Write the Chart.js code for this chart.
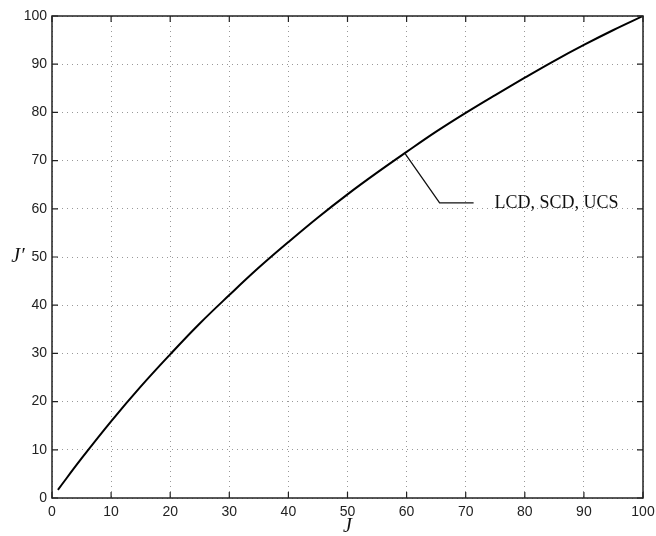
<!DOCTYPE html>
<html>
<head>
<meta charset="utf-8">
<script src="https://cdn.jsdelivr.net/npm/chart.js@4/dist/chart.umd.min.js"></script>
<style>
  html, body { margin: 0; padding: 0; background: #fff; }
  #wrap { width: 656px; height: 536px; }
</style>
</head>
<body>
<div id="wrap"><canvas id="lineChart" width="656" height="536"></canvas></div>
<script>
// values
const jValues = [1, 5, 10, 15, 20, 25, 30, 35, 40, 45, 50, 55, 60, 65, 70, 75, 80, 85, 90, 95, 100];
const jPrimeValues = [1.7, 8.2, 15.9, 23.1, 29.8, 36.2, 42.1, 47.8, 53.1, 58.2, 63.0, 67.5, 71.8, 76.0, 79.9, 83.6, 87.2, 90.7, 94.0, 97.1, 100];
const tickValues = [0, 10, 20, 30, 40, 50, 60, 70, 80, 90, 100];
const seriesLabel = 'LCD, SCD, UCS';

const points = jValues.map((j, i) => ({ x: j, y: jPrimeValues[i] }));

// box, inward ticks, axis titles and the callout
const framePlugin = {
    id: 'frame',
    afterDraw(chart) {
        const { ctx, chartArea: a, scales } = chart;
        const xs = scales.x, ys = scales.y;
        ctx.save();
        ctx.strokeStyle = '#222';
        ctx.lineWidth = 1.5;
        ctx.strokeRect(a.left, a.top, a.right - a.left, a.bottom - a.top);
        ctx.lineWidth = 1.2;
        ctx.beginPath();
        tickValues.forEach(v => {
            const px = xs.getPixelForValue(v);
            ctx.moveTo(px, a.bottom); ctx.lineTo(px, a.bottom - 6);
            ctx.moveTo(px, a.top); ctx.lineTo(px, a.top + 6);
            const py = ys.getPixelForValue(v);
            ctx.moveTo(a.left, py); ctx.lineTo(a.left + 6, py);
            ctx.moveTo(a.right, py); ctx.lineTo(a.right - 6, py);
        });
        ctx.stroke();

        // axis titles
        ctx.fillStyle = '#111';
        ctx.font = 'italic 20px "Liberation Serif", serif';
        ctx.textAlign = 'center';
        ctx.textBaseline = 'middle';
        ctx.fillText('J', (a.left + a.right) / 2, 527);
        ctx.fillText('J\u2032', 18, (a.top + a.bottom) / 2);

        // callout
        const i = jValues.indexOf(60);
        const ax = xs.getPixelForValue(jValues[i]) - 2;
        const ay = ys.getPixelForValue(jPrimeValues[i]) + 1;
        ctx.strokeStyle = '#111';
        ctx.lineWidth = 1.3;
        ctx.beginPath();
        ctx.moveTo(ax, ay);
        ctx.lineTo(ax + 35, ay + 50);
        ctx.lineTo(ax + 69, ay + 50);
        ctx.stroke();
        ctx.font = '18px "Liberation Serif", serif';
        ctx.textAlign = 'left';
        ctx.fillText(seriesLabel, ax + 90, ay + 50);
        ctx.restore();
    }
};

const tickFont = { family: '"Liberation Sans", Arial, sans-serif', size: 14 };

new Chart(document.getElementById('lineChart'), {
    type: 'scatter',
    data: {
        datasets: [{
            label: seriesLabel,
            data: points,
            showLine: true,
            borderColor: '#000',
            borderWidth: 2,
            pointRadius: 0,
            tension: 0.4
        }]
    },
    options: {
        responsive: false,
        animation: false,
        layout: { padding: { top: 16, right: 13, left: 0, bottom: 0 } },
        plugins: { legend: { display: false }, tooltip: { enabled: false } },
        scales: {
            x: {
                type: 'linear', min: 0, max: 100,
                afterBuildTicks: s => { s.ticks = tickValues.map(v => ({ value: v })); },
                afterFit: s => { s.height = 38; s.paddingLeft = 0; s.paddingRight = 0; },
                grid: { color: '#999', lineWidth: 1, drawTicks: false },
                border: { display: false, dash: [1, 4] },
                ticks: { font: tickFont, color: '#222', padding: 6, maxRotation: 0 }
            },
            y: {
                type: 'linear', min: 0, max: 100,
                afterBuildTicks: s => { s.ticks = tickValues.map(v => ({ value: v })); },
                afterFit: s => { s.width = 52; s.paddingTop = 0; s.paddingBottom = 0; },
                grid: { color: '#999', lineWidth: 1, drawTicks: false },
                border: { display: false, dash: [1, 4] },
                ticks: { font: tickFont, color: '#222', padding: 5 }
            }
        }
    },
    plugins: [framePlugin]
});
</script>
</body>
</html>
